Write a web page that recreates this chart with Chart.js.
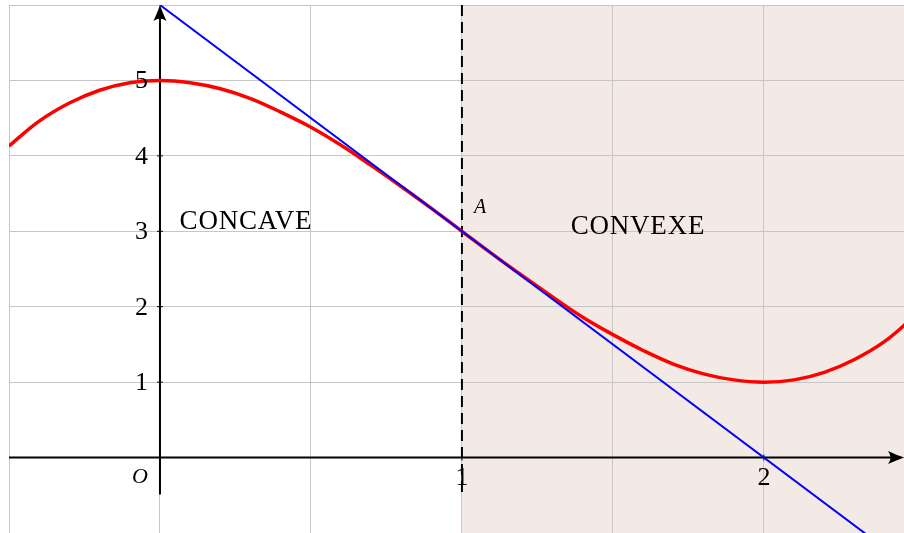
<!DOCTYPE html>
<html>
<head>
<meta charset="utf-8">
<script src="https://cdn.jsdelivr.net/npm/chart.js@4"></script>
<style>
  html, body { margin: 0; padding: 0; background: #fff; }
  #wrap { width: 904px; height: 533px; }
</style>
</head>
<body>
<div id="wrap"><canvas id="c" width="904" height="533"></canvas></div>
<script>
// valeurs
const curveX = [-0.5, -0.4, -0.3, -0.2, -0.1, 0, 0.1, 0.2, 0.3, 0.4, 0.5, 0.6, 0.7, 0.8, 0.9, 1,
  1.1, 1.2, 1.3, 1.4, 1.5, 1.6, 1.7, 1.8, 1.9, 2, 2.1, 2.2, 2.3, 2.4, 2.5];
const curveY = [4.13, 4.46, 4.70, 4.87, 4.97, 5, 4.97, 4.89, 4.76, 4.58, 4.38, 4.14, 3.87, 3.59, 3.30, 3,
  2.70, 2.41, 2.13, 1.86, 1.63, 1.42, 1.24, 1.11, 1.03, 1, 1.03, 1.13, 1.30, 1.54, 1.88];
const tangentX = [0, 2.5];
const tangentY = [6, -1.5];
const xTicks = [1, 2];
const xTickLabels = ['1', '2'];
const yTicks = [1, 2, 3, 4, 5];
const yTickLabels = ['1', '2', '3', '4', '5'];
const pointA = [1, 3];
const splitX = 1;

const SERIF = '"Liberation Serif", "DejaVu Serif", serif';

function arrow(ctx, tx, ty, dx, dy) {
  // pointe de flèche style LaTeX, (dx,dy) = direction unitaire
  const px = -dy, py = dx;
  const L = 16, W = 6.5, N = 11;
  ctx.beginPath();
  ctx.moveTo(tx, ty);
  ctx.quadraticCurveTo(tx - dx * 6 + px * 2, ty - dy * 6 + py * 2, tx - dx * L + px * W, ty - dy * L + py * W);
  ctx.quadraticCurveTo(tx - dx * N, ty - dy * N, tx - dx * L - px * W, ty - dy * L - py * W);
  ctx.quadraticCurveTo(tx - dx * 6 - px * 2, ty - dy * 6 - py * 2, tx, ty);
  ctx.fill();
}

const decor = {
  id: 'decor',
  beforeDraw(chart) {
    const { ctx, chartArea: a, scales: { x } } = chart;
    ctx.save();
    ctx.fillStyle = '#f3eae6';
    const x1 = x.getPixelForValue(splitX);
    ctx.fillRect(x1, a.top, a.right - x1, a.bottom - a.top);
    ctx.restore();
  },
  beforeDatasetsDraw(chart) {
    const { ctx, chartArea: a, scales: { x, y } } = chart;
    const x0 = x.getPixelForValue(0), y0 = y.getPixelForValue(0);
    ctx.save();
    ctx.strokeStyle = '#000';
    ctx.fillStyle = '#000';
    ctx.lineWidth = 2;
    // axe x
    ctx.beginPath();
    ctx.moveTo(a.left, y0);
    ctx.lineTo(a.right - 4, y0);
    ctx.stroke();
    arrow(ctx, a.right, y0, 1, 0);
    // axe y
    ctx.beginPath();
    ctx.moveTo(x0, y.getPixelForValue(-0.49));
    ctx.lineTo(x0, a.top + 4);
    ctx.stroke();
    arrow(ctx, x0, a.top, 0, -1);
    // petites graduations
    ctx.lineWidth = 1;
    yTicks.forEach(v => {
      const py = y.getPixelForValue(v);
      ctx.beginPath(); ctx.moveTo(x0 - 3, py); ctx.lineTo(x0 + 3, py); ctx.stroke();
    });
    xTicks.forEach(v => {
      const px = x.getPixelForValue(v);
      ctx.beginPath(); ctx.moveTo(px, y0 - 3); ctx.lineTo(px, y0 + 3); ctx.stroke();
    });
    // droite verticale x = 1 en pointillés
    const x1 = x.getPixelForValue(splitX);
    ctx.lineWidth = 2;
    ctx.setLineDash([11, 6]);
    ctx.beginPath();
    ctx.moveTo(x1, a.top);
    ctx.lineTo(x1, y.getPixelForValue(-0.5));
    ctx.stroke();
    ctx.restore();
  },
  afterDatasetsDraw(chart) {
    const { ctx, scales: { x, y } } = chart;
    const x0 = x.getPixelForValue(0), y0 = y.getPixelForValue(0);
    ctx.save();
    ctx.fillStyle = '#000';
    ctx.font = '26px ' + SERIF;
    ctx.textAlign = 'right';
    ctx.textBaseline = 'middle';
    yTicks.forEach((v, i) => ctx.fillText(yTickLabels[i], x0 - 12, y.getPixelForValue(v) + 1));
    ctx.textAlign = 'center';
    ctx.textBaseline = 'top';
    xTicks.forEach((v, i) => ctx.fillText(xTickLabels[i], x.getPixelForValue(v), y0 + 8));
    ctx.textBaseline = 'alphabetic';
    ctx.textAlign = 'left';
    ctx.font = '27px ' + SERIF;
    ctx.letterSpacing = '0.8px';
    ctx.fillText('CONCAVE', x.getPixelForValue(0.065), y.getPixelForValue(3.03));
    ctx.fillText('CONVEXE', x.getPixelForValue(1.36), y.getPixelForValue(2.96));
    ctx.letterSpacing = '0px';
    ctx.font = 'italic 20px ' + SERIF;
    ctx.fillText('A', x.getPixelForValue(pointA[0]) + 12, y.getPixelForValue(pointA[1]) - 18);
    ctx.textAlign = 'center';
    ctx.font = 'italic 22px ' + SERIF;
    ctx.fillText('O', x0 - 20, y0 + 25);
    ctx.restore();
  }
};

function multiples(scale, step) {
  scale.ticks = scale.ticks.filter(t => Math.abs(t.value / step - Math.round(t.value / step)) < 1e-6);
}

new Chart(document.getElementById('c'), {
  type: 'line',
  data: {
    datasets: [
      {
        data: tangentX.map((v, i) => ({ x: v, y: tangentY[i] })),
        borderColor: '#0000ff',
        borderWidth: 2,
        pointRadius: 0,
        tension: 0,
      },
      {
        data: curveX.map((v, i) => ({ x: v, y: curveY[i] })),
        borderColor: '#ff0000',
        borderWidth: 3.5,
        pointRadius: 0,
        tension: 0.4,
      },
    ],
  },
  options: {
    responsive: false,
    animation: false,
    layout: { padding: { left: 9, top: 5, right: 0, bottom: 0 } },
    plugins: { legend: { display: false }, tooltip: { enabled: false } },
    scales: {
      x: {
        type: 'linear',
        min: -0.5,
        max: 2.464,
        afterBuildTicks: s => multiples(s, 0.5),
        ticks: { display: false, stepSize: 0.5 },
        grid: { color: '#c6c6c6', lineWidth: 1, drawTicks: false },
        border: { display: false },
      },
      y: {
        type: 'linear',
        min: -1,
        max: 6,
        ticks: { display: false, stepSize: 1 },
        grid: { color: '#c6c6c6', lineWidth: 1, drawTicks: false },
        border: { display: false },
      },
    },
  },
  plugins: [decor],
});
</script>
</body>
</html>
